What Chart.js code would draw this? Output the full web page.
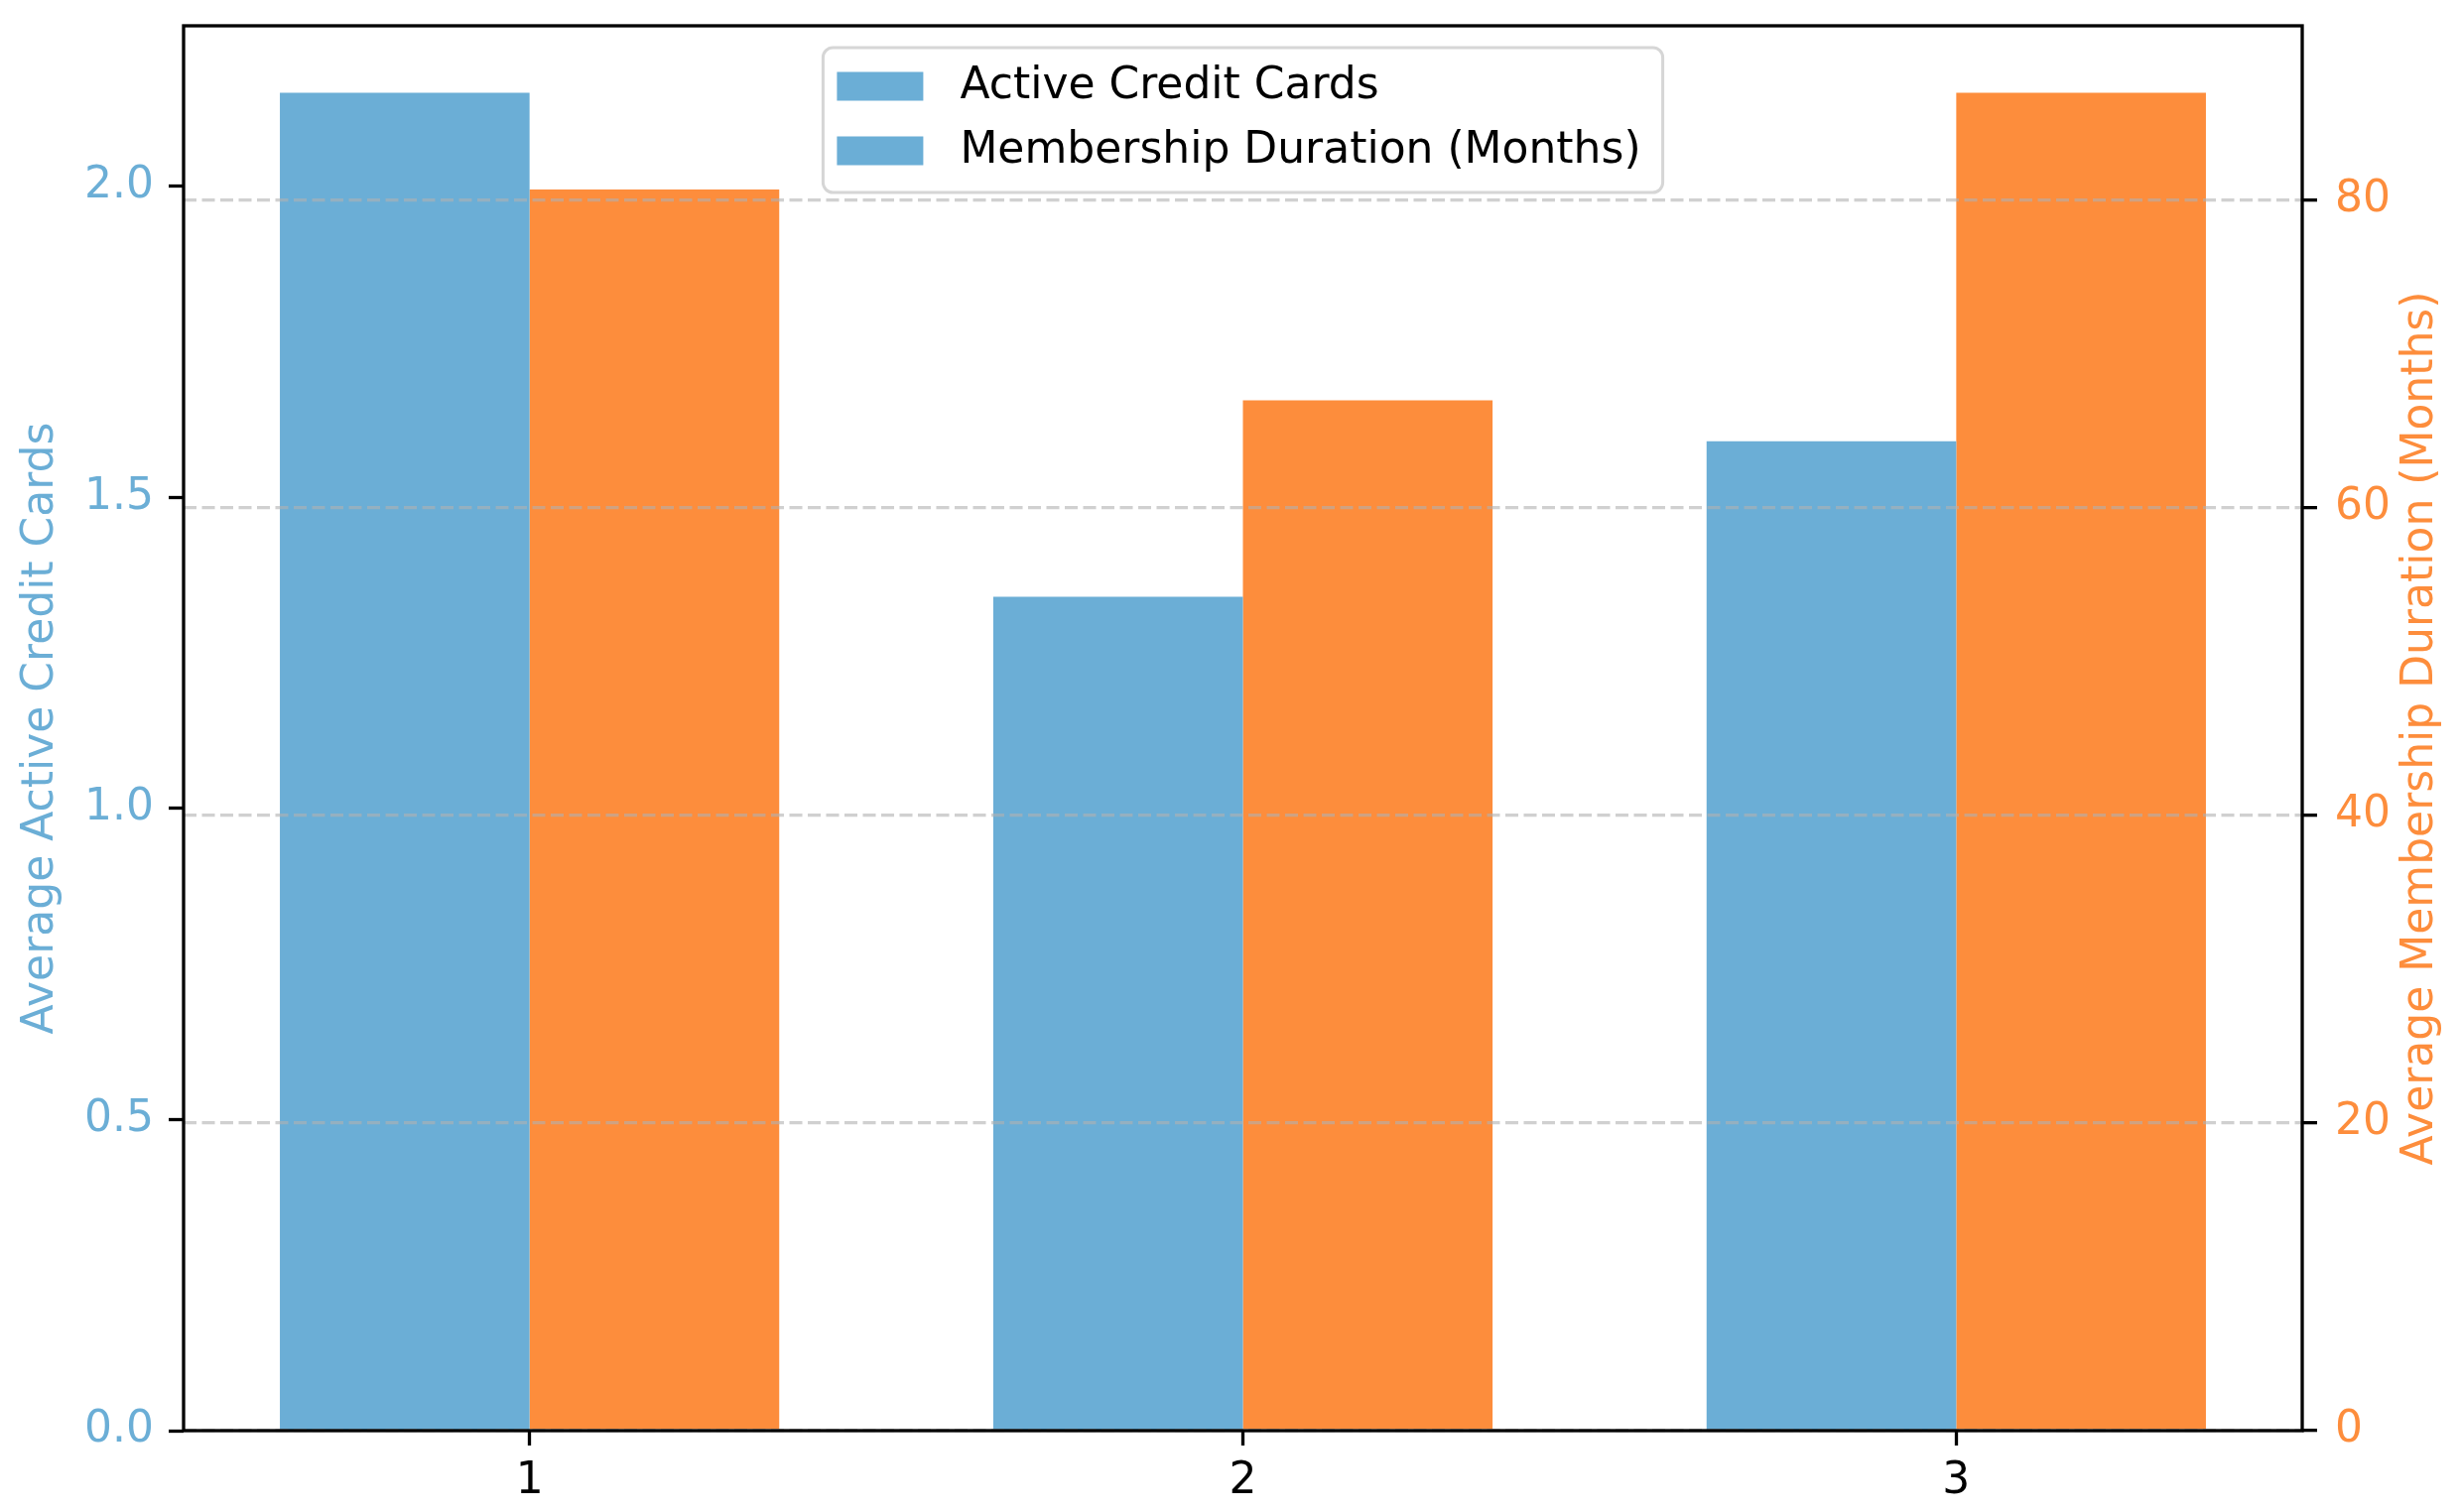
<!DOCTYPE html>
<html>
<head>
<meta charset="utf-8">
<script src="https://cdn.jsdelivr.net/npm/chart.js@4.4.1/dist/chart.umd.min.js"></script>
<style>
  html, body { margin: 0; padding: 0; background: #fff; }
  canvas { display: block; }
</style>
</head>
<body>
<canvas id="chart" width="2480" height="1524"></canvas>
<script>
// values
const categories = [1, 2, 3];
const activeCards = [2.15, 1.34, 1.59];
const durationMonths = [80.7, 67.0, 87.0];
const seriesNames = ['Active Credit Cards', 'Membership Duration (Months)'];
const axisTitles = ['Average Active Credit Cards', 'Average Membership Duration (Months)'];

const BLUE = '#6baed6';
const ORANGE = '#fd8d3c';
const FONT = '"DejaVu Sans", sans-serif';
const FS = 44;
const tickFont = { family: FONT, size: FS };

// limits like matplotlib: bars of 0.35 each side of the category, 5% margin
const barWidth = 0.35;
const xLo = categories[0] - barWidth;
const xHi = categories[categories.length - 1] + barWidth;
const xPad = (xHi - xLo) * 0.05;

// spines, rotated axis titles and the legend box inside the plot
const decorations = {
  id: 'decorations',
  afterDraw(chart) {
    const ctx = chart.ctx;
    const a = chart.chartArea;
    ctx.save();

    ctx.strokeStyle = '#000';
    ctx.lineWidth = 3.3;
    ctx.strokeRect(a.left, a.top, a.right - a.left, a.bottom - a.top);

    ctx.font = FS + 'px ' + FONT;
    ctx.textAlign = 'center';
    ctx.textBaseline = 'middle';
    const cy = (a.top + a.bottom) / 2;
    [[a.left - 143, BLUE, axisTitles[0]], [a.right + 120, ORANGE, axisTitles[1]]].forEach(([x, col, txt]) => {
      ctx.save();
      ctx.translate(x, cy);
      ctx.rotate(-Math.PI / 2);
      ctx.fillStyle = col;
      ctx.fillText(txt, 0, 0);
      ctx.restore();
    });

    // legend (the reference shows both swatches in blue)
    const labels = chart.data.datasets.map(d => d.label);
    const tw = Math.max(...labels.map(t => ctx.measureText(t).width));
    const padL = 14, padR = 22, sw = 87, sh = 29, gap = 37, rowGap = 65;
    const w = padL + sw + gap + tw + padR;
    const h = 146;
    const x0 = (a.left + a.right) / 2 - w / 2;
    const y0 = a.top + 22;
    ctx.beginPath();
    if (ctx.roundRect) ctx.roundRect(x0, y0, w, h, 10); else ctx.rect(x0, y0, w, h);
    ctx.fillStyle = 'rgba(255,255,255,0.8)';
    ctx.fill();
    ctx.strokeStyle = '#d6d6d6';
    ctx.lineWidth = 3;
    ctx.stroke();
    ctx.textAlign = 'left';
    labels.forEach((t, i) => {
      const y = y0 + 39 + i * rowGap;
      ctx.fillStyle = BLUE;
      ctx.fillRect(x0 + padL, y - sh / 2, sw, sh);
      ctx.fillStyle = '#000';
      ctx.fillText(t, x0 + padL + sw + gap, y + 1);
    });
    ctx.restore();
  }
};

new Chart(document.getElementById('chart'), {
  type: 'bar',
  data: {
    labels: categories,
    datasets: [
      { label: seriesNames[0], data: activeCards, backgroundColor: BLUE, yAxisID: 'y' },
      { label: seriesNames[1], data: durationMonths, backgroundColor: ORANGE, yAxisID: 'y1' }
    ]
  },
  options: {
    responsive: false,
    animation: false,
    devicePixelRatio: 1,
    events: [],
    layout: { padding: { top: 26, left: 0, right: 0, bottom: 0 } },
    datasets: { bar: { categoryPercentage: 0.7, barPercentage: 1.0 } },
    plugins: { legend: { display: false }, tooltip: { enabled: false } },
    scales: {
      x: {
        type: 'linear',
        min: xLo - xPad,
        max: xHi + xPad,
        bounds: 'data',
        offset: false,
        afterBuildTicks: s => { s.ticks = categories.map(v => ({ value: v })); },
        ticks: { color: '#000', font: tickFont, padding: 10, callback: v => String(v) },
        grid: { offset: false, drawOnChartArea: false, tickLength: 15, tickWidth: 3.3, tickColor: '#000' },
        border: { display: false },
        afterFit: s => { s.height = 82; s.paddingLeft = 0; s.paddingRight = 0; }
      },
      y: {
        position: 'left',
        min: 0,
        max: Math.max(...activeCards) * 1.05,
        bounds: 'data',
        ticks: { stepSize: 0.5, includeBounds: false, color: BLUE, font: tickFont, padding: 15,
                 callback: v => v.toFixed(1) },
        grid: { drawOnChartArea: false, tickLength: 15, tickWidth: 3.3, tickColor: '#000' },
        border: { display: false },
        afterFit: s => { s.width = 185; s.paddingTop = 0; s.paddingBottom = 0; }
      },
      y1: {
        position: 'right',
        min: 0,
        max: Math.max(...durationMonths) * 1.05,
        bounds: 'data',
        ticks: { stepSize: 20, includeBounds: false, color: ORANGE, font: tickFont, padding: 18,
                 callback: v => String(v) },
        grid: { drawOnChartArea: true, color: 'rgba(176,176,176,0.6)', lineWidth: 3.3, z: 1,
                tickLength: 15, tickWidth: 3.3, tickColor: '#000' },
        border: { display: false, dash: [13, 5.5] },
        afterFit: s => { s.width = 160; s.paddingTop = 0; s.paddingBottom = 0; }
      }
    }
  },
  plugins: [decorations]
});
</script>
</body>
</html>
